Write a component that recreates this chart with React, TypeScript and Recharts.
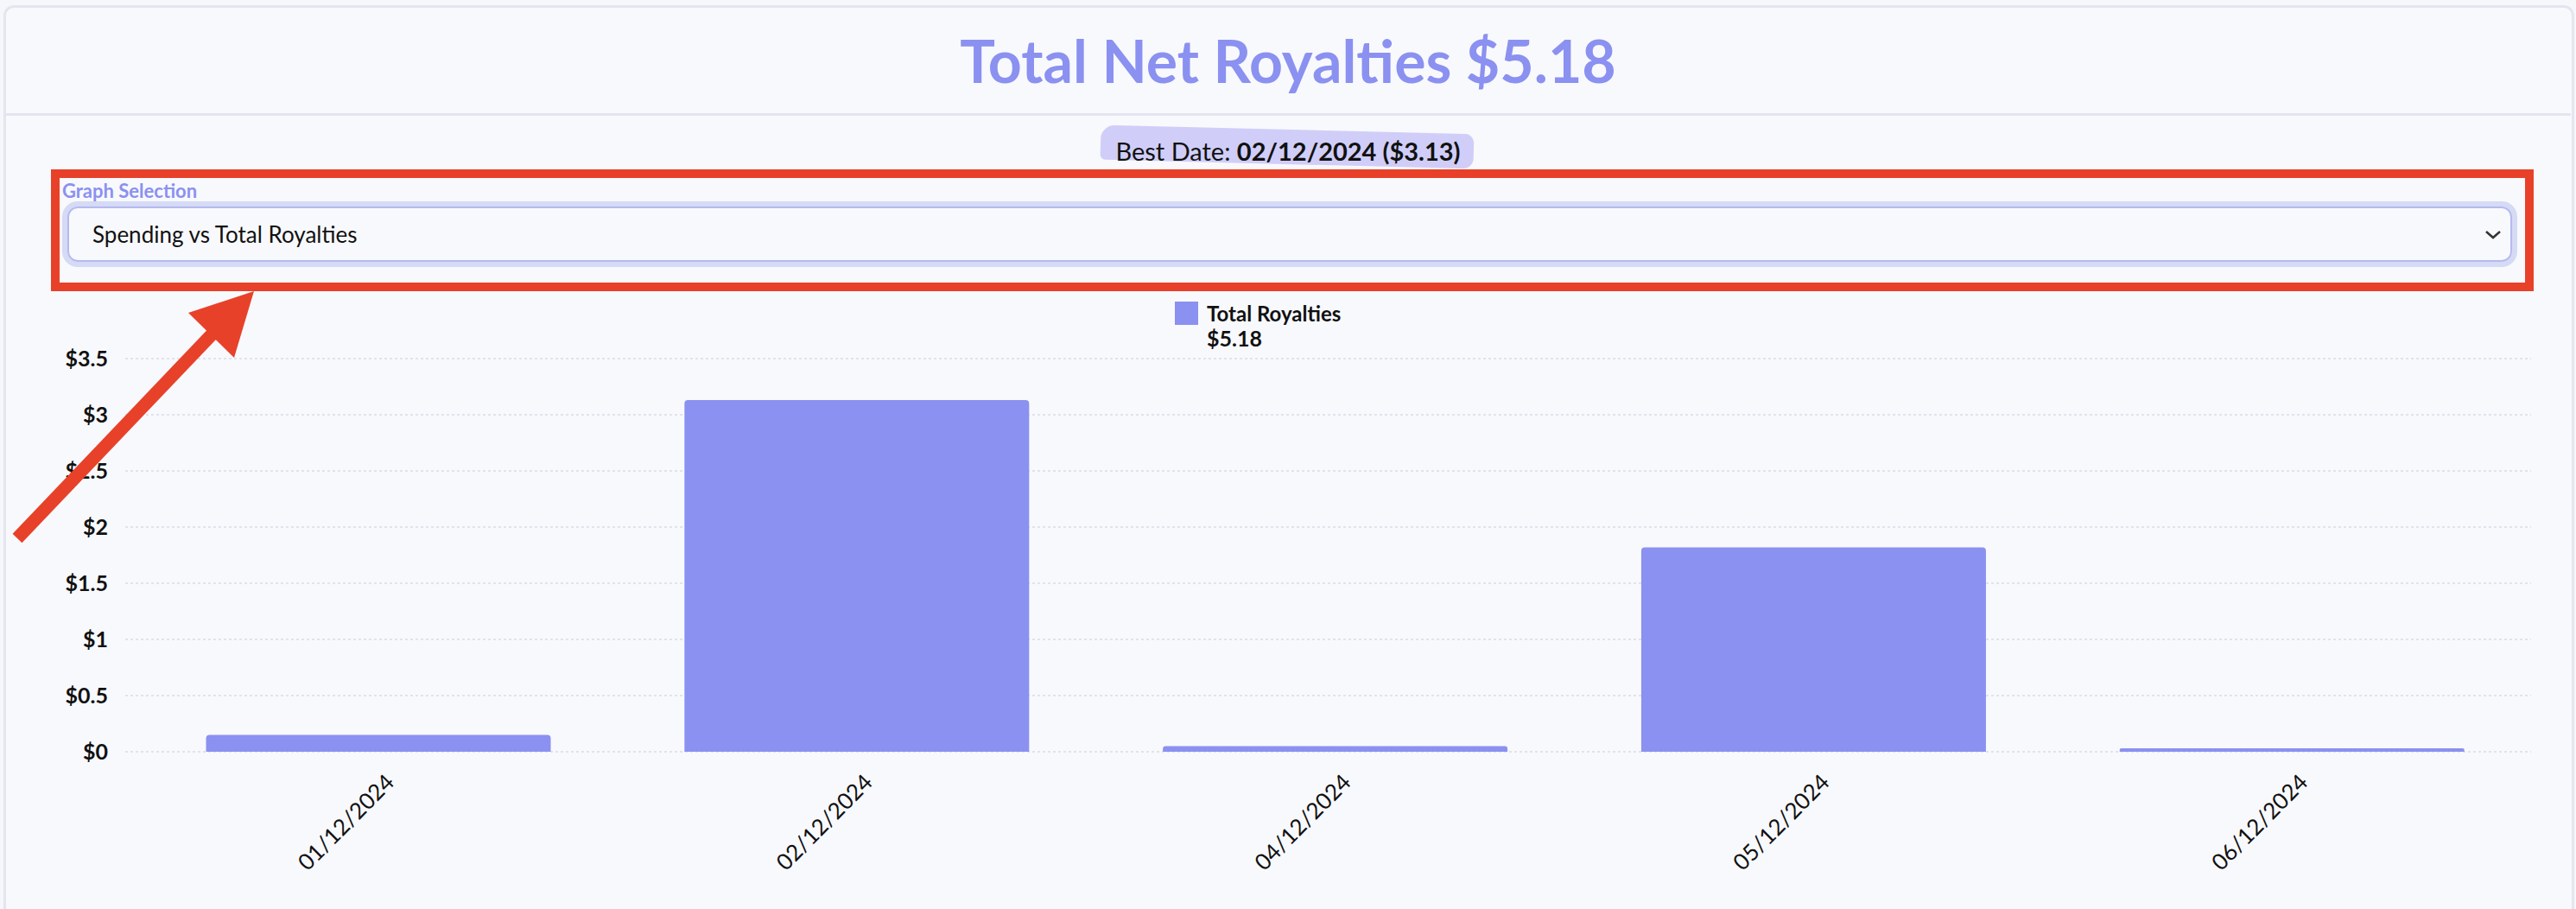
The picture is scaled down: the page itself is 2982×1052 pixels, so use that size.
import { BarChart, Bar, XAxis, YAxis, CartesianGrid, Legend } from 'recharts';

const dates = ['01/12/2024', '02/12/2024', '04/12/2024', '05/12/2024', '06/12/2024'];
const royalties = [0.15, 3.13, 0.05, 1.82, 0.03];
const yTicks = [0, 0.5, 1, 1.5, 2, 2.5, 3, 3.5];

const data = dates.map((date, i) => ({ date, royalties: royalties[i] }));
const total = royalties.reduce((a, b) => a + b, 0);

const PURPLE = '#8b91f0';
const FONT = 'Lato, "Noto Sans", sans-serif';

function DateTick({ x, y, payload }: any) {
	return (
		<g transform={`translate(${x + 20},${y + 35})`}>
			<text
				x={0}
				y={0}
				textAnchor='end'
				transform='rotate(-45)'
				fontSize={26}
				fontFamily={FONT}
				fill='#111'>
				{payload.value}
			</text>
		</g>
	);
}

function LegendBox() {
	return (
		<div style={{ display: 'flex', gap: 10, height: 56, fontFamily: FONT }}>
			<div style={{ width: 27, height: 27, background: PURPLE }} />
			<div style={{ fontWeight: 700, color: '#111', lineHeight: '28px' }}>
				<div style={{ fontSize: 24 }}>Total Royalties</div>
				<div style={{ fontSize: 25 }}>${total.toFixed(2)}</div>
			</div>
		</div>
	);
}

export default function App() {
	return (
		<div
			style={{
				position: 'absolute',
				left: 0,
				top: 0,
				width: 2982,
				height: 1052,
				overflow: 'hidden',
				background: '#f6f7fb',
				fontFamily: FONT,
			}}>
			{/* card */}
			<div
				style={{
					position: 'absolute',
					left: 4,
					top: 6,
					width: 2970,
					height: 1100,
					border: '3px solid #e4e5ef',
					borderRadius: 12,
					background: '#f8f9fd',
				}}
			/>
			<div style={{ position: 'absolute', left: 6, top: 131, width: 2970, height: 3, background: '#e4e5ef' }} />

			<div
				style={{
					position: 'absolute',
					left: 0,
					top: 28,
					width: 2982,
					textAlign: 'center',
					fontSize: 68,
					fontWeight: 700,
					color: PURPLE,
					lineHeight: '84px',
				}}>
				Total Net Royalties $5.18
			</div>

			{/* best date highlight */}
			<div
				style={{
					position: 'absolute',
					left: 1274,
					top: 150,
					width: 432,
					height: 40,
					background: '#d0cef8',
					borderRadius: '16px 10px 12px 6px',
					transform: 'rotate(1.4deg)',
				}}
			/>
			<div
				style={{
					position: 'absolute',
					left: 0,
					top: 157,
					width: 2982,
					textAlign: 'center',
					fontSize: 29,
					color: '#111',
					lineHeight: '36px',
				}}>
				Best Date: <b>02/12/2024 ($3.13)</b>
			</div>

			{/* selection */}
			<div
				style={{
					position: 'absolute',
					left: 72,
					top: 207,
					fontSize: 22,
					fontWeight: 700,
					color: PURPLE,
				}}>
				Graph Selection
			</div>
			<div
				style={{
					position: 'absolute',
					left: 72,
					top: 233,
					width: 2842,
					height: 76,
					boxSizing: 'border-box',
					border: '6px solid #d5daf5',
					borderRadius: 18,
				}}>
				<div
					style={{
						position: 'absolute',
						inset: 0,
						border: '2px solid #b6baef',
						borderRadius: 12,
						background: '#f8f9fd',
						display: 'flex',
						alignItems: 'center',
						paddingLeft: 27,
						fontSize: 26,
						color: '#111',
					}}>
					Spending vs Total Royalties
				</div>
				<svg
					style={{ position: 'absolute', right: 12, top: 26 }}
					width={20}
					height={14}
					viewBox='0 0 20 14'>
					<polyline points='2,3 10,10 18,3' fill='none' stroke='#333' strokeWidth={2.5} />
				</svg>
			</div>
			<div
				style={{
					position: 'absolute',
					left: 59,
					top: 196,
					width: 2874,
					height: 141,
					boxSizing: 'border-box',
					border: '10px solid #e8412a',
				}}
			/>

			<div style={{ position: 'absolute', left: 0, top: 340 }}>
				<BarChart
					width={2982}
					height={712}
					data={data}
					barCategoryGap='14%'
					margin={{ top: 19, right: 52, left: 25, bottom: 32 }}>
					<CartesianGrid
						vertical={false}
						stroke='#e1e3ec'
						strokeWidth={2}
						strokeDasharray='3 3'
					/>
					<Legend
						verticalAlign='top'
						content={() => <LegendBox />}
						wrapperStyle={{ left: 1360, top: 9, width: 'auto' }}
					/>
					<XAxis
						dataKey='date'
						interval={0}
						height={150}
						axisLine={false}
						tickLine={false}
						tickSize={0}
						tick={<DateTick />}
						padding={{ left: 16, right: 0 }}
					/>
					<YAxis
						width={120}
						domain={[0, 3.5]}
						ticks={yTicks}
						axisLine={false}
						tickLine={false}
						tickSize={0}
						tickMargin={20}
						tick={{ fontSize: 25, fontWeight: 700, fill: '#111', fontFamily: FONT }}
						tickFormatter={(v) => `$${v}`}
					/>
					<Bar
						dataKey='royalties'
						fill={PURPLE}
						radius={[4, 4, 0, 0]}
						isAnimationActive={false}
					/>
				</BarChart>
			</div>

			{/* annotation arrow */}
			<svg
				style={{ position: 'absolute', left: 0, top: 0, pointerEvents: 'none' }}
				width={2982}
				height={1052}>
				<line x1={20} y1={623} x2={250} y2={382} stroke='#e8412a' strokeWidth={15} />
				<polygon points='294,337 218,362 271,414' fill='#e8412a' />
			</svg>
		</div>
	);
}
